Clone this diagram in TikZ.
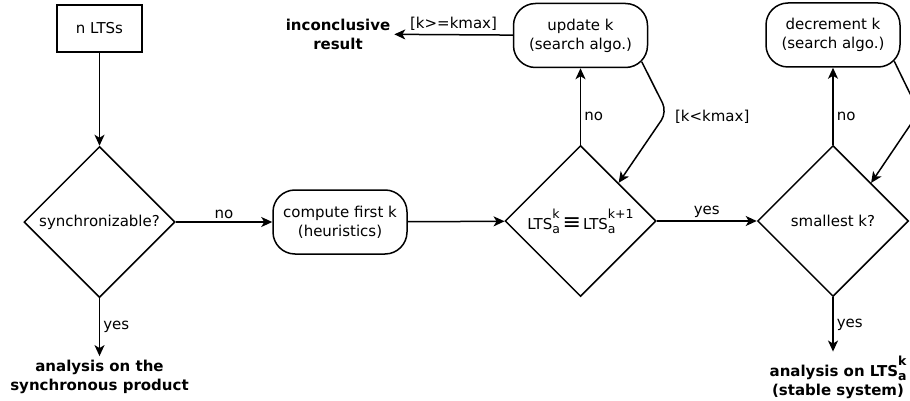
\documentclass[tikz,border=0pt]{standalone}
\usepackage{fontspec}
\setmainfont{DejaVu Sans}
\usetikzlibrary{shapes.geometric,arrows.meta}

\newcommand{\ltsk}[1]{LTS\rlap{\raisebox{-4pt}{\fontsize{12.5}{13}\selectfont a}}\raisebox{11pt}{\fontsize{12.5}{13}\selectfont #1}}

\begin{document}
\begin{tikzpicture}[x=1pt,y=-1pt,line width=1.5pt,
    every node/.style={font=\fontsize{15}{19}\selectfont},
    flow/.style={-{Stealth[length=11pt,width=10pt,inset=3pt]}},
    inbox/.style={draw,minimum width=85pt,minimum height=47pt},
    task/.style={draw,rounded corners=22pt,minimum width=134pt,minimum height=64pt,align=center},
    test/.style={draw,diamond,aspect=1,inner sep=0pt,minimum width=151pt,minimum height=151pt},
    result/.style={align=center,font=\fontsize{15}{19}\selectfont\bfseries},
    lbl/.style={inner sep=3pt}]
                    \useasboundingbox (0,0) rectangle (910,401);

                    \node[test] (sync) at (99.5,222) {synchronizable?};
                    \node[inbox] (input) at (99.5,28.5) {n LTSs};
                    \node[result] (prod) at (99.5,377) {analysis on the\\synchronous product};

                    \node[task] (first) at (340,222) {compute first k\\(heuristics)};
                    \node[test] (equiv) at (580.5,221) {\ltsk{k}\hspace{3pt}{\fontsize{22}{22}\selectfont ≡}\hspace{2pt}\ltsk{k+1}};
                    \node[task] (update) at (580.5,35.5) {update k\\(search algo.)};
                    \node[result] (incon) at (338,34) {inconclusive\\result};

                    \node[test] (small) at (833,221) {smallest k?};
                    \node[task] (decr) at (833,35) {decrement k\\(search algo.)};
                    \node[result] (stable) at (838,377) {analysis on \ltsk{k}\\(stable system)};

                    \coordinate (bendu) at (667,112);
                    \coordinate (bendd) at (919,112);

                    \draw[flow] (input) -- (sync);
                    \draw[flow] (sync) -- node[lbl,right,pos=0.5] {yes} (prod);
                    \draw[flow] (sync) -- node[lbl,above] {no} (first);
                    \draw[flow] (first) -- (equiv);
                    \draw[flow] (equiv) -- node[lbl,above] {yes} (small);
                    \draw[flow] (equiv) -- node[lbl,right,pos=0.37] {no} (update);
                    \draw[flow] (update) -- node[lbl,above] {[k>=kmax]} (incon);
                    \draw[flow,rounded corners=10pt] ([shift={(-6.5,-6.5)}]update.south east) -- (bendu)
                        node[right,xshift=4pt,yshift=-5pt] {[k<kmax]} -- (equiv.north east);
                    \draw[flow] (small) -- node[lbl,right,pos=0.37] {no} (decr);
                    \draw[flow,rounded corners=10pt] ([shift={(-6.5,-6.5)}]decr.south east) -- (bendd) -- (small.north east);
                    \draw[flow] (small.south) -- node[lbl,right,pos=0.5] {yes} (small |- stable.north);
                \end{tikzpicture}
\end{document}
